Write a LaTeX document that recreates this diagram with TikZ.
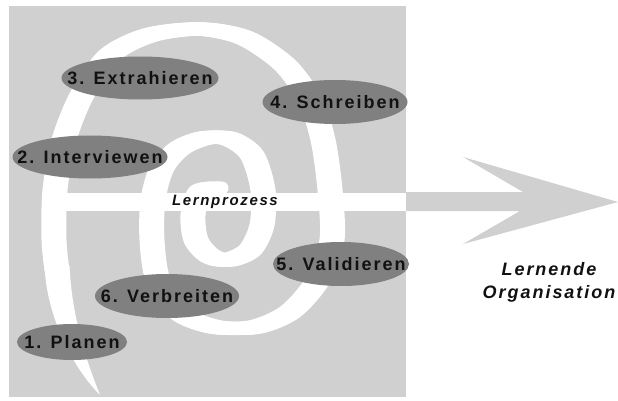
\documentclass[tikz,border=0pt]{standalone}
\usepackage{fontspec}
\setmainfont{Liberation Sans}
\newfontfamily\stagefont[LetterSpace=11]{Liberation Sans}
\newfontfamily\flowfont[LetterSpace=11]{Liberation Sans}
\newfontfamily\goalfont[LetterSpace=11]{Liberation Sans}
\usetikzlibrary{shapes.geometric}
\definecolor{panel}{HTML}{D0D0D0}
\definecolor{stagefill}{HTML}{808080}
\definecolor{ink}{HTML}{111111}
% stage text: centred on the node without widening the ellipse
\newcommand{\stagetext}[1]{\makebox[0pt]{\raisebox{-0.36em}[0pt][0pt]{#1}}}
\tikzset{
  stage/.style={ellipse, fill=stagefill, inner sep=0pt, text=ink,
    font=\stagefont\bfseries\fontsize{18}{20}\selectfont},
  flowlabel/.style={inner sep=0pt, text=ink,
    font=\flowfont\bfseries\itshape\fontsize{15}{17}\selectfont},
  goallabel/.style={inner sep=0pt, text=ink, align=center,
    font=\goalfont\bfseries\itshape\fontsize{18}{23}\selectfont},
  spiralpen/.style={white, line width=13pt, line cap=round, line join=round},
}
\begin{document}
\begin{tikzpicture}[x=1pt,y=-1pt]
\useasboundingbox (0,0) rectangle (618,401);

% grey panel
\fill[panel] (9,6) rectangle (406,397);

% outgoing arrow
\fill[panel] (406,192) -- (523,192) -- (463,157) -- (618,202)
  -- (463,244) -- (520,211) -- (406,211) -- cycle;

% white band carrying the process label
\fill[white] (55,193) rectangle (406,211);

% spiral, drawn with a broad horizontal pen
\foreach \d in {-6,-4,...,6}
  \draw[spiralpen, xshift=\d pt] plot[smooth] coordinates {
    (216,188) (200,192) (193,215) (196,240) (210,256) (228,260)
    (250,250) (262,225) (263,190) (252,155) (230,139) (205,138)
    (180,148) (162,168) (153,200) (152,240) (158,280) (180,313)
    (215,327) (255,327) (290,312) (318,280) (332,240) (330,190)
    (323,140) (310,100) (285,65) (245,38) (200,29) (150,35)
    (110,55) (82,95) (64,140) (55,190) (54,240) (57,270)};

% tapering tail of the spiral
\fill[white] (44.5,266) .. controls (47,320) and (75,370) .. (100,395)
  .. controls (88,365) and (72,320) .. (69.5,266) -- cycle;

% process stages
\node[stage, minimum width=157pt, minimum height=43pt] (s3) at (140,78) {\stagetext{3. Extrahieren}};
\node[stage, minimum width=145pt, minimum height=44pt] (s4) at (335,102) {\stagetext{4. Schreiben}};
\node[stage, minimum width=155pt, minimum height=43pt] (s2) at (90,157) {\stagetext{2. Interviewen}};
\node[stage, minimum width=136pt, minimum height=44pt] (s5) at (341,264) {\stagetext{5. Validieren}};
\node[stage, minimum width=144pt, minimum height=44pt] (s6) at (167,296) {\stagetext{6. Verbreiten}};
\node[stage, minimum width=110pt, minimum height=36pt] (s1) at (72,342) {\stagetext{1. Planen}};

% labels
\node[flowlabel] (flow) at (225,202) {Lernprozess};
\node[goallabel] (goal) at (549,282) {Lernende\\Organisation};
\end{tikzpicture}
\end{document}
